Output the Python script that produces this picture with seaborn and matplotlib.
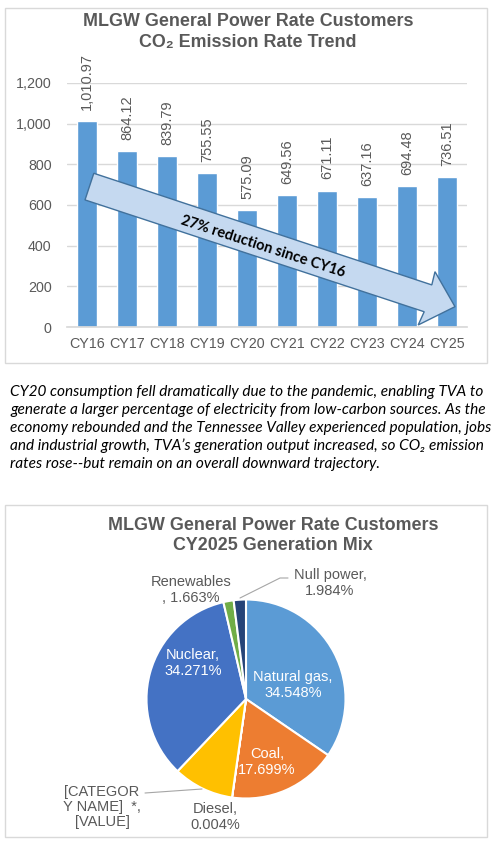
import matplotlib
matplotlib.use("Agg")
import matplotlib.pyplot as plt
import numpy as np
import pandas as pd
import seaborn as sns
from matplotlib.patches import Polygon, Rectangle

# data
years = ["CY16", "CY17", "CY18", "CY19", "CY20", "CY21", "CY22", "CY23", "CY24", "CY25"]
emission_rate = [1010.97, 864.12, 839.79, 755.55, 575.09, 649.56, 671.11, 637.16, 694.48, 736.51]
y_ticks = [0, 200, 400, 600, 800, 1000, 1200]

mix_labels = ["Natural gas", "Coal", "Diesel", "[CATEGOR\nY NAME]  *", "Nuclear", "Renewables", "Null power"]
mix_share = [34.548, 17.699, 0.004, 9.831, 34.271, 1.663, 1.984]
mix_colors = ["#5b9bd5", "#ed7d31", "#a5a5a5", "#ffc000", "#4472c4", "#70ad47", "#264478"]

sns.set_theme(style="white")
plt.rcParams["font.family"] = ["Liberation Sans", "DejaVu Sans"]

W, H = 499, 842
fig = plt.figure(figsize=(W / 100, H / 100), dpi=100)
fig.patch.set_facecolor("white")

def fx(px):
    return px / W

def fy(py):
    return 1 - py / H

grey = "#595959"
border = "#d9d9d9"

# frames round both charts
for (x0, y0, x1, y1) in [(5, 8, 487, 363), (5, 505, 487, 837)]:
    fig.patches.append(Rectangle((fx(x0), fy(y1)), fx(x1 - x0), (y1 - y0) / H,
                                 transform=fig.transFigure, fill=False,
                                 edgecolor=border, linewidth=1))

## bar chart
ax = fig.add_axes([fx(67), fy(327), fx(400), (327 - 83) / H])
df = pd.DataFrame({"year": years, "rate": emission_rate})
sns.barplot(data=df, x="year", y="rate", color="#5b9bd5", saturation=1, width=0.5, ax=ax)
ax.set_ylim(0, 1200)
ax.set_xlim(-0.5, len(years) - 0.5)
ax.set_yticks(y_ticks)
ax.set_yticklabels([f"{v:,}" for v in y_ticks])
ax.set_xlabel("")
ax.set_ylabel("")
ax.tick_params(axis="both", colors=grey, labelsize=10.3, length=0)
ax.tick_params(axis="y", pad=11)
ax.tick_params(axis="x", pad=7)
ax.grid(True, axis="y", color=border, linewidth=1)
ax.set_axisbelow(True)
for side in ["top", "right", "left"]:
    ax.spines[side].set_visible(False)
ax.spines["bottom"].set_color(border)
ax.bar_label(ax.containers[0], labels=[f"{v:,.2f}" for v in emission_rate],
             rotation=90, padding=8, fontsize=10.5, color=grey, clip_on=False)

# trend arrow
arrow_pts = [(0.17, 756), (8.62, 207), (8.70, 272), (9.20, 100),
             (8.28, 10), (8.43, 75), (-0.05, 625)]
ax.add_patch(Polygon(arrow_pts, closed=True, facecolor="#c5d9f0",
                     edgecolor="#41719c", linewidth=1, zorder=5, clip_on=False))
ax.text(4.4, 393, "27% reduction since CY16", rotation=-18, rotation_mode="anchor",
        ha="center", va="center", fontsize=10.5, fontweight="bold",
        family=["Lato", "DejaVu Sans"], color="black", zorder=6)

fig.text(fx(248), fy(22), "MLGW General Power Rate Customers", ha="center", va="center",
         fontsize=12.9, fontweight="bold", color=grey)
fig.text(fx(248), fy(42), "CO₂ Emission Rate Trend", ha="center", va="center",
         fontsize=12.9, fontweight="bold", color=grey)

## note
note = ("CY20 consumption fell dramatically due to the pandemic, enabling TVA to\n"
        "generate a larger percentage of electricity from low-carbon sources. As the\n"
        "economy rebounded and the Tennessee Valley experienced population, jobs\n"
        "and industrial growth, TVA’s generation output increased, so CO₂ emission\n"
        "rates rose--but remain on an overall downward trajectory.")
fig.text(fx(10), fy(385), note, ha="left", va="top", fontsize=11.05, style="italic",
         family=["Lato", "DejaVu Sans"], color="black", linespacing=1.35)

## pie chart
cx, cy, r = 246, 699, 99.5
pax = fig.add_axes([fx(cx - r), fy(cy + r), fx(2 * r), 2 * r / H])
wedges, _ = pax.pie(mix_share, colors=mix_colors, startangle=90, counterclock=False,
                    radius=1, wedgeprops=dict(edgecolor="white", linewidth=1.5))
pax.set_xlim(-1, 1)
pax.set_ylim(-1, 1)
pax.set_axis_off()

def lbl(i):
    return f"{mix_labels[i]},\n{mix_share[i]:.3f}%"

def to_pie(px, py):
    return (px - cx) / r, (cy - py) / r

# labels inside
for i, (px, py) in [(0, (293, 685)), (1, (267, 762)), (4, (193, 663))]:
    x, y = to_pie(px, py)
    pax.text(x, y, lbl(i), ha="center", va="center", fontsize=10.5, color="white",
             linespacing=1.1)

# labels outside
x, y = to_pie(215, 817)
pax.text(x, y, lbl(2), ha="center", va="center", fontsize=10.5, color=grey, linespacing=1.1)
x, y = to_pie(102, 807)
pax.text(x, y, "[CATEGOR\nY NAME]  *,\n[VALUE]", ha="center", va="center",
         fontsize=10.5, color=grey, linespacing=1.1)
x, y = to_pie(191, 590)
pax.text(x, y, "Renewables\n, 1.663%", ha="center", va="center", fontsize=10.5,
         color=grey, linespacing=1.1)
x, y = to_pie(330, 583)
pax.text(x, y, lbl(6), ha="center", va="center", fontsize=10.5, color=grey, linespacing=1.1)

# leader lines
for pts in [[(145, 793), (202, 789)], [(240, 598), (280, 578), (288, 578)]]:
    xs, ys = zip(*[to_pie(px, py) for px, py in pts])
    pax.plot(xs, ys, color="#a6a6a6", linewidth=0.8, clip_on=False)

fig.text(fx(273), fy(525), "MLGW General Power Rate Customers", ha="center", va="center",
         fontsize=12.9, fontweight="bold", color=grey)
fig.text(fx(273), fy(545), "CY2025 Generation Mix", ha="center", va="center",
         fontsize=12.9, fontweight="bold", color=grey)

fig.savefig("out.png", dpi=100, facecolor="white")
